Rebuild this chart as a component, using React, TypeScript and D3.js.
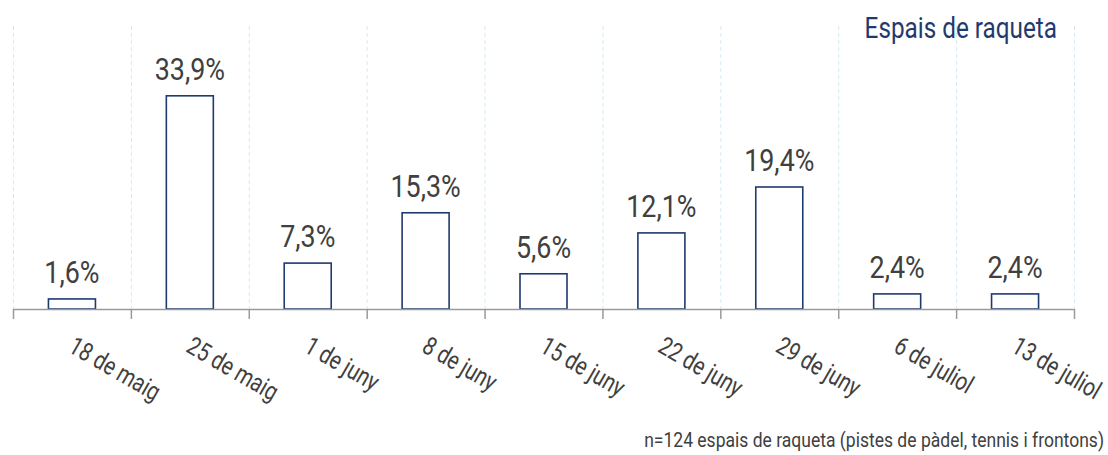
import React, { useEffect, useRef } from "react";
import * as d3 from "d3";

const weeks = [
  "18 de maig",
  "25 de maig",
  "1 de juny",
  "8 de juny",
  "15 de juny",
  "22 de juny",
  "29 de juny",
  "6 de juliol",
  "13 de juliol",
];
const shares = [1.6, 33.9, 7.3, 15.3, 5.6, 12.1, 19.4, 2.4, 2.4];
const title = "Espais de raqueta";
const note = "n=124 espais de raqueta (pistes de pàdel, tennis i frontons)";

const FONT = "Roboto, 'DejaVu Sans Condensed', sans-serif";

export default function App() {
  const svgRef = useRef<SVGSVGElement>(null);

  useEffect(() => {
    const width = 1108;
    const height = 455;
    const margin = { top: 26, right: 34, bottom: 146, left: 13 };

    const svg = d3.select(svgRef.current);
    svg.selectAll("*").remove();

    const data = weeks.map((w, i) => ({ key: w, value: shares[i] }));

    const x = d3
      .scaleBand()
      .domain(weeks)
      .range([margin.left, width - margin.right])
      .paddingInner(0)
      .paddingOuter(0);

    const y = d3
      .scaleLinear()
      .domain([0, 45])
      .range([height - margin.bottom, margin.top]);

    const bottom = height - margin.bottom;
    const edges = weeks.map((w) => x(w)).concat([width - margin.right]);

    // dashed vertical grid
    svg
      .append("g")
      .selectAll("line")
      .data(edges)
      .enter()
      .append("line")
      .attr("x1", (d) => d + 0.5)
      .attr("x2", (d) => d + 0.5)
      .attr("y1", margin.top)
      .attr("y2", bottom)
      .attr("stroke", "#d3ebf3")
      .attr("stroke-width", 1)
      .attr("stroke-dasharray", "4,3");

    // bars
    const barW = 47;
    svg
      .append("g")
      .selectAll("rect")
      .data(data)
      .enter()
      .append("rect")
      .attr("x", (d) => x(d.key) + x.bandwidth() / 2 - barW / 2)
      .attr("y", (d) => y(d.value))
      .attr("width", barW)
      .attr("height", (d) => bottom - y(d.value))
      .attr("fill", "#fff")
      .attr("stroke", "#1f3a6e")
      .attr("stroke-width", 1.6);

    // axis line and ticks
    const axis = svg.append("g");
    axis
      .append("line")
      .attr("x1", margin.left)
      .attr("x2", width - margin.right)
      .attr("y1", bottom + 0.5)
      .attr("y2", bottom + 0.5)
      .attr("stroke", "#9a9a9a")
      .attr("stroke-width", 1.5);
    axis
      .selectAll(".tick")
      .data(edges)
      .enter()
      .append("line")
      .attr("class", "tick")
      .attr("x1", (d) => d + 0.5)
      .attr("x2", (d) => d + 0.5)
      .attr("y1", bottom)
      .attr("y2", bottom + 10)
      .attr("stroke", "#9a9a9a")
      .attr("stroke-width", 1.5);

    // category labels, rotated
    svg
      .append("g")
      .selectAll("text")
      .data(weeks)
      .enter()
      .append("text")
      .attr(
        "transform",
        (d) =>
          `translate(${x(d) + x.bandwidth() / 2 - 5}, ${bottom + 42}) rotate(30) scale(0.8,1)`
      )
      .attr("text-anchor", "start")
      .style("font-family", FONT)
      .style("font-size", "25.5px")
      .style("fill", "#404040")
      .text((d) => d);

    // value labels
    svg
      .append("g")
      .selectAll("text")
      .data(data)
      .enter()
      .append("text")
      .attr(
        "transform",
        (d) => `translate(${x(d.key) + x.bandwidth() / 2}, ${y(d.value) - 16}) scale(0.84,1)`
      )
      .attr("text-anchor", "middle")
      .style("font-family", FONT)
      .style("font-size", "32px")
      .style("fill", "#404040")
      .text((d) => d3.format(".1f")(d.value).replace(".", ",") + "%");

    svg
      .append("text")
      .attr("transform", "translate(1057, 38) scale(0.81,1)")
      .attr("text-anchor", "end")
      .style("font-family", FONT)
      .style("font-size", "30px")
      .style("fill", "#1f3a6e")
      .text(title);

    svg
      .append("text")
      .attr("transform", "translate(1104, 447) scale(0.835,1)")
      .attr("text-anchor", "end")
      .style("font-family", FONT)
      .style("font-size", "21px")
      .style("fill", "#404040")
      .text(note);
  }, []);

  return (
    <svg
      ref={svgRef}
      width={1108}
      height={455}
      style={{ position: "absolute", left: 0, top: 0, background: "#fff" }}
    ></svg>
  );
}
